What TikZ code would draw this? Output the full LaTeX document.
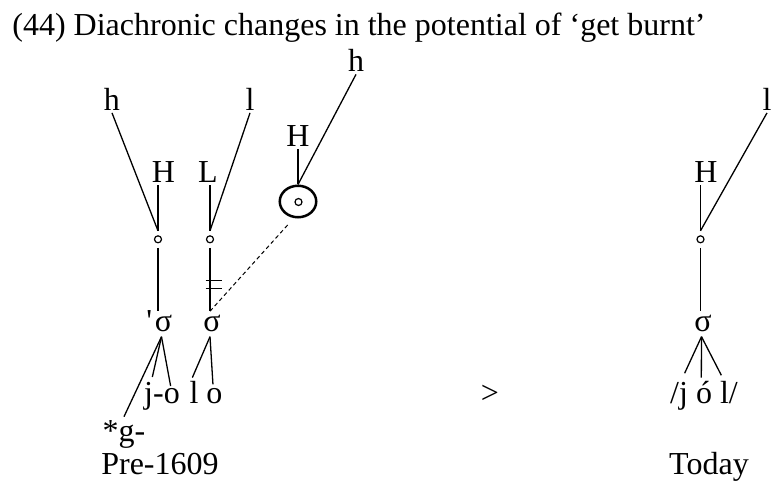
\documentclass[tikz,border=0pt]{standalone}
\usepackage{fontspec}
\setmainfont{Liberation Serif}
\usetikzlibrary{shapes.geometric, positioning}

\begin{document}
\begin{tikzpicture}[
    x=0.5pt, y=-0.5pt,
    font=\fontsize{16}{19}\selectfont,
    txt/.style={inner sep=1pt, anchor=base},
    syl/.style={inner sep=2pt, anchor=base},
    slot/.style={circle, draw, line width=0.6pt, minimum size=3.5pt, inner sep=0pt, outer sep=2.5pt},
    ring/.style={ellipse, draw, line width=1.25pt, minimum width=18.25pt, minimum height=15.75pt, inner sep=0pt},
    assoc/.style={line width=0.65pt},
    float/.style={line width=0.5pt, dash pattern=on 2pt off 1.5pt}
]
    \useasboundingbox (0,0) rectangle (773,481);
    \node[anchor=base west, inner sep=0pt] (title) at (12,36) {(44) Diachronic changes in the potential of `get burnt'};

    % Pre-1609
    \node[txt] (h1) at (112,110.5) {h};
    \node[txt] (l1) at (250,110.5) {l};
    \node[txt] (H1) at (163.5,183) {H};
    \node[txt] (L1) at (208,183) {L};
    \node[txt] (H2) at (298,147) {H};
    \node[txt] (h2) at (356,72) {h};
    \node[slot] (c1) at (158,239.3) {};
    \node[slot] (c2) at (210,239.3) {};
    \node[ring] (ell) at (298,201.5) {};
    \node[slot, outer sep=0pt] (c0) at (298.5,202) {};
    \node[syl] (s1) at (163.5,332) {σ};
    \node[syl] (s2) at (212,332) {σ};
    \node[inner sep=0pt, base left=-1pt of s1] (stress) {\textquotesingle};
    \node[txt] (jo) at (162,404) {j-o};
    \node[txt] (lo) at (206,404) {l o};
    \node[txt] (gs) at (124,442) {*g-};
    \node[txt] (pre) at (160,474) {Pre-1609};

    \node[txt] (gt) at (490,404) {>};

    % Today
    \node[txt] (l3) at (767,110.5) {l};
    \node[txt] (H3) at (706,183) {H};
    \node[slot] (c3) at (700.5,239.3) {};
    \node[syl] (s3) at (703,332) {σ};
    \node[txt] (jol) at (704,404) {/j ó l/};
    \node[txt] (today) at (709,474) {Today};

    \coordinate (jo-j) at ([shift={(5.25pt,1.7pt)}]jo.north west);
    \coordinate (jo-o) at ([shift={(14.4pt,-2.8pt)}]jo.north west);
    \coordinate (lo-l) at ([shift={(2.6pt,0.9pt)}]lo.north west);
    \coordinate (lo-o) at ([shift={(12.9pt,-2.45pt)}]lo.north west);
    \coordinate (jol-j) at ([shift={(8.4pt,3.05pt)}]jol.north west);
    \coordinate (jol-o) at ([shift={(16.75pt,0.9pt)}]jol.north west);
    \coordinate (jol-l) at ([shift={(26.75pt,2.05pt)}]jol.north west);

    \draw[assoc] (h1.south) -- (c1.north);
    \draw[assoc] (H1.south -| c1.north) -- (c1.north);
    \draw[assoc] (l1.south) -- (c2.north);
    \draw[assoc] (L1.south -| c2.north) -- (c2.north);
    \draw[assoc] (H2.south) -- (ell.north);
    \draw[assoc] (h2.south) -- (ell.north);
    \draw[assoc] (c1.south) -- (c1.south |- s1.north);
    \draw[assoc] (c2.south) -- (c2.south |- s2.north) coordinate[pos=0.58] (cut);
    \draw[assoc] ([shift={(-2.15pt,1.9pt)}]cut) -- ++(8.3pt,0);
    \draw[assoc] ([shift={(-2.15pt,-1.9pt)}]cut) -- ++(8.3pt,0);
    \draw[float, shorten >=3.5pt] (c2.south |- s2.north) -- (ell.256);
    \draw[assoc] ([xshift=-1pt]s1.south) -- (jo-j);
    \draw[assoc] ([xshift=-1pt]s1.south) -- (jo-o);
    \draw[assoc] ([xshift=-1pt]s1.south) -- ([yshift=1pt]gs.north);
    \draw[assoc] ([xshift=-1pt]s2.south) -- (lo-l);
    \draw[assoc] ([xshift=-1pt]s2.south) -- (lo-o);

    \draw[assoc] (l3.south) -- (c3.north);
    \draw[assoc] (H3.south -| c3.north) -- (c3.north);
    \draw[assoc] (c3.south) -- (c3.south |- s3.north);
    \draw[assoc] ([xshift=-0.75pt]s3.south) -- (jol-j);
    \draw[assoc] ([xshift=-0.75pt]s3.south) -- (jol-o);
    \draw[assoc] ([xshift=-0.75pt]s3.south) -- (jol-l);
\end{tikzpicture}
\end{document}
